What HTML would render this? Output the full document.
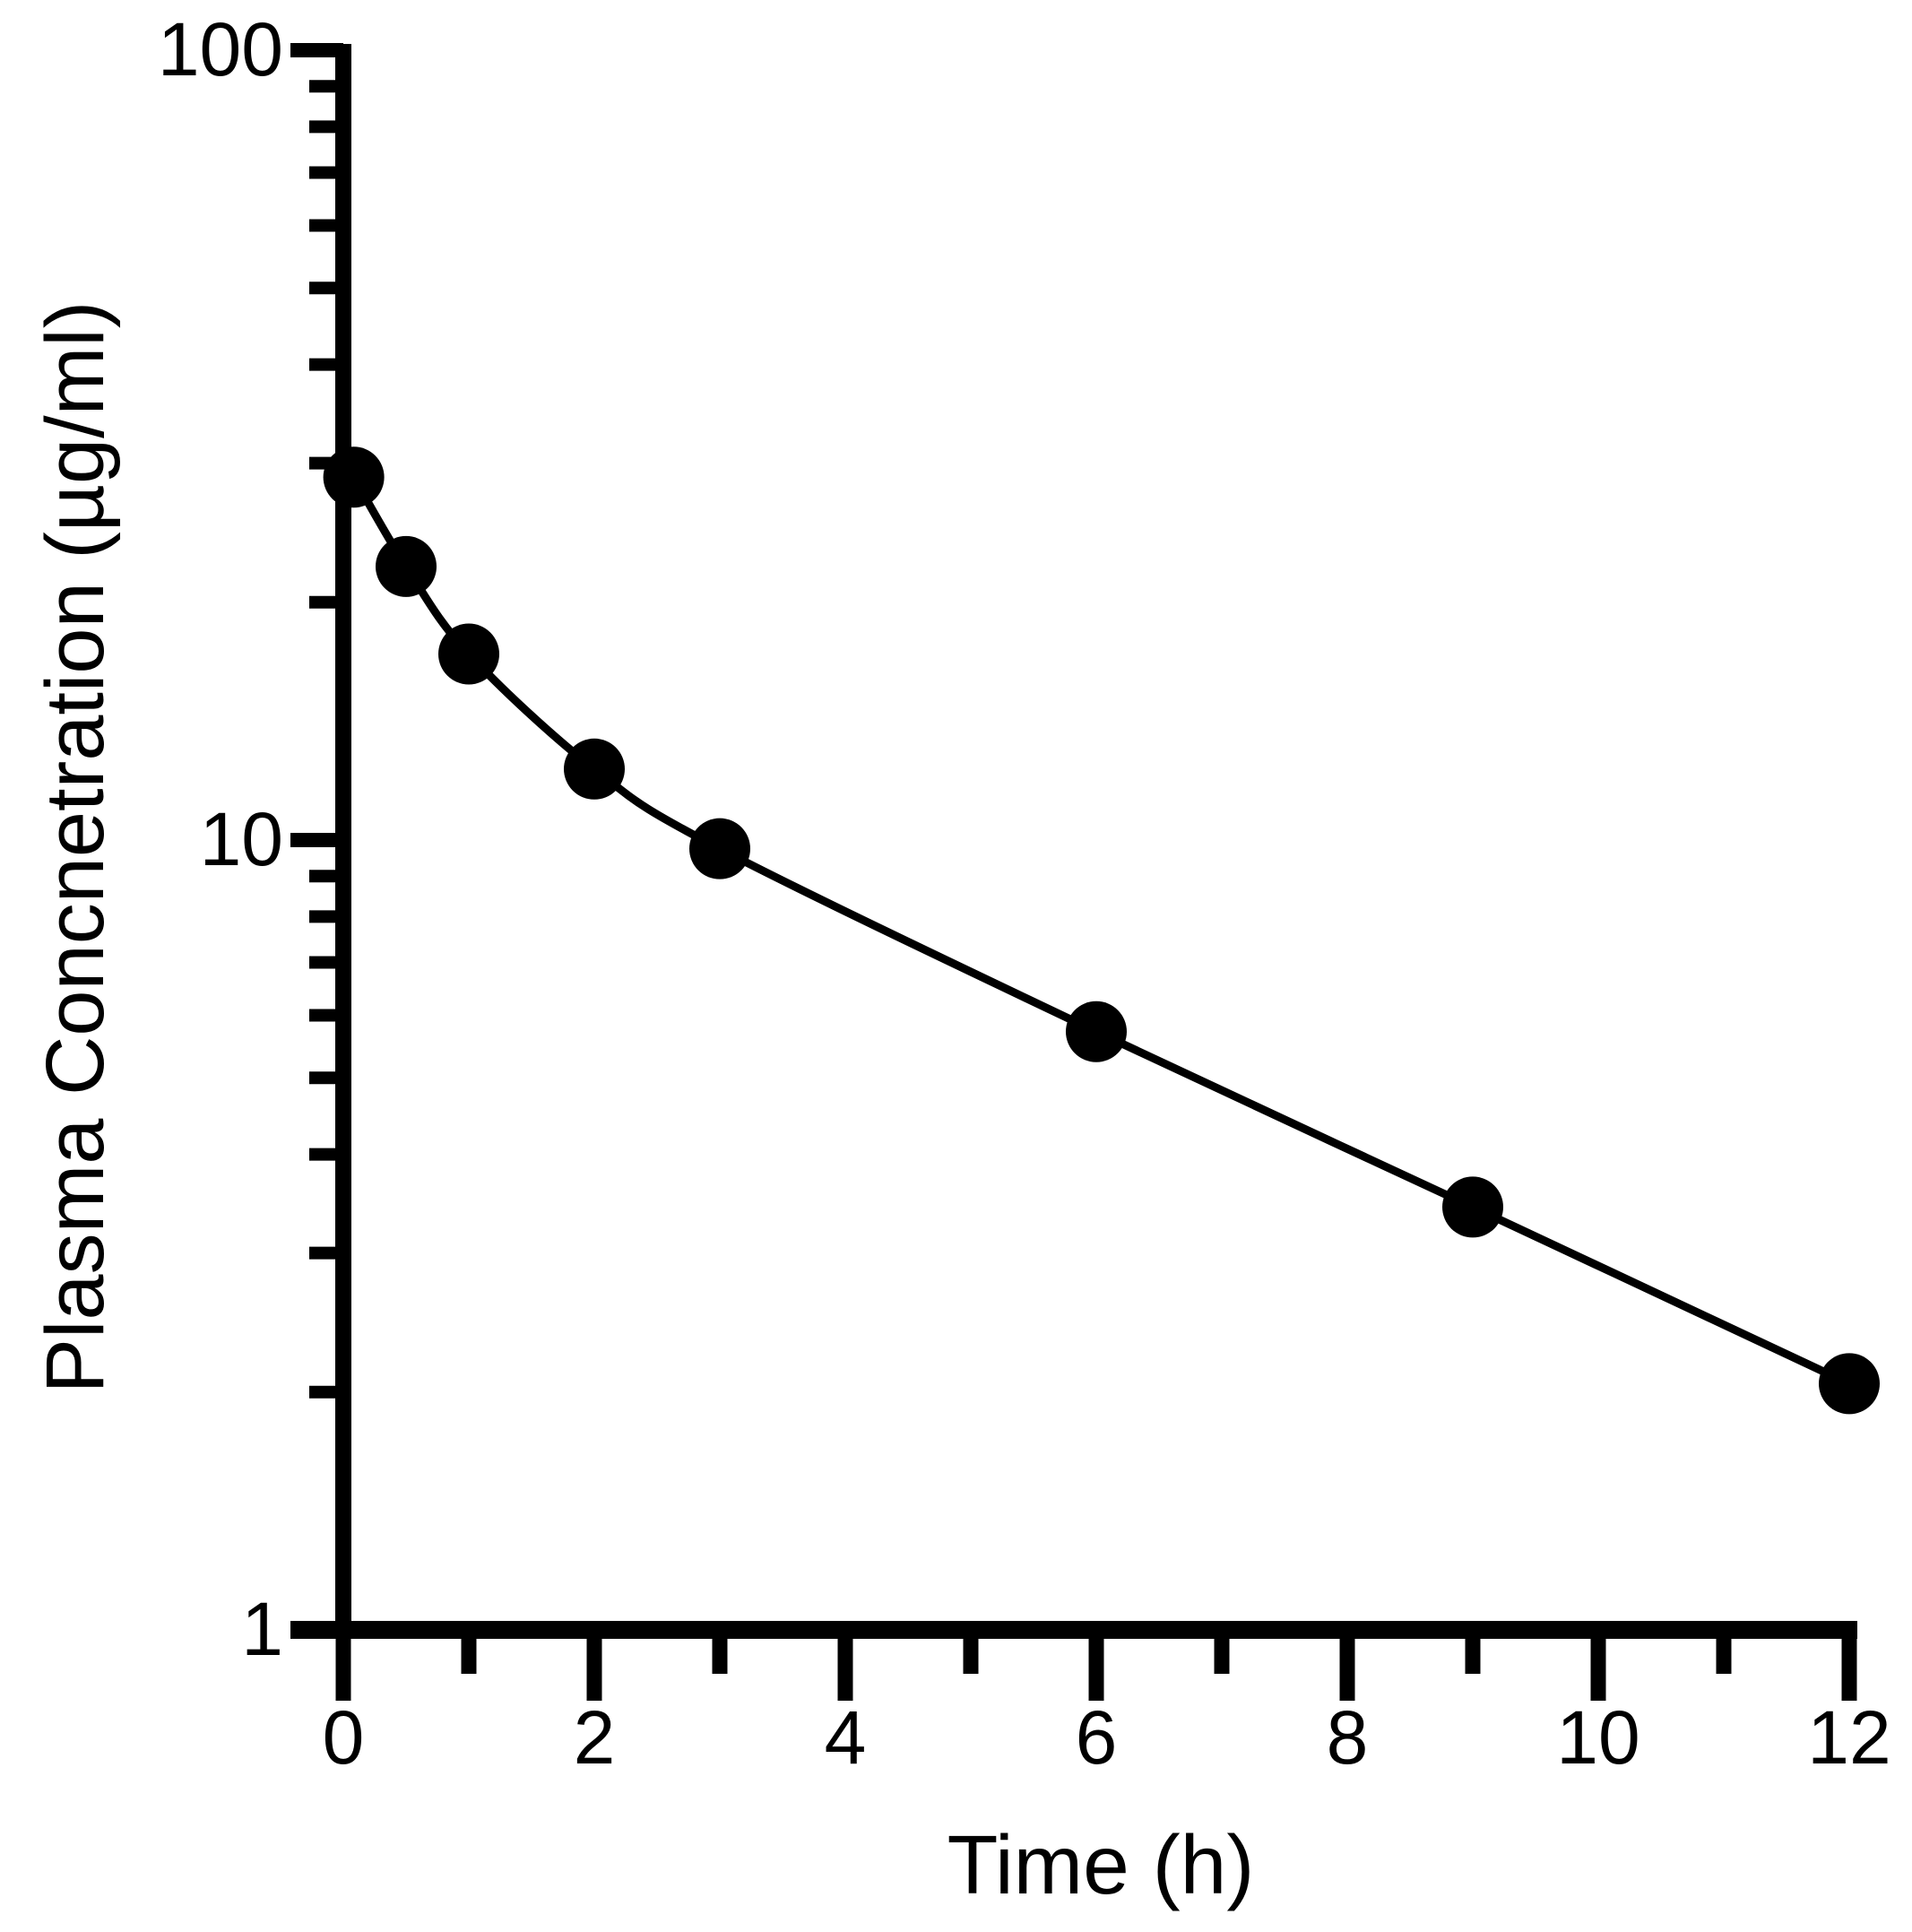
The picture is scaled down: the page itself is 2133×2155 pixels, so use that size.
<!DOCTYPE html>
<html><head><meta charset="utf-8"><style>
html,body{margin:0;padding:0;background:#fff;}
svg{display:block;font-family:"Liberation Sans",Arial,sans-serif;}
</style></head><body>
<svg id="chart" width="2133" height="2155" viewBox="0 0 2133 2155" xmlns="http://www.w3.org/2000/svg">
<g id="axes"></g>
<g id="series"></g>
<text x="1228" y="2112" font-size="93" text-anchor="middle">Time (h)</text>
<text transform="translate(115,945) rotate(-90)" font-size="92" text-anchor="middle">Plasma Concnetration (µg/ml)</text>
</svg>
<script>
const times = [0.083, 0.5, 1, 2, 3, 6, 9, 12];
const concs = [28.8, 22.2, 17.2, 12.3, 9.75, 5.72, 3.43, 2.05];
const xTicks = [0, 2, 4, 6, 8, 10, 12];
const xMinorTicks = [1, 3, 5, 7, 9, 11];
const yTickLabels = ["1", "10", "100"];
const yTickValues = [1, 10, 100];

const NS = "http://www.w3.org/2000/svg";
const X0 = 383, XU = 140;
const Y1 = 1818, DEC = 881;
function sx(t){ return X0 + t * XU; }
function sy(v){ return Y1 - Math.log10(v) * DEC; }
function mk(tag, attrs, parent){
  const e = document.createElementNS(NS, tag);
  for (const k in attrs) e.setAttribute(k, attrs[k]);
  parent.appendChild(e); return e;
}
const axes = document.getElementById('axes');
const series = document.getElementById('series');

let yl = mk('line', {x1: X0, y1: 49, x2: X0, y2: Y1 + 10, stroke: '#000', 'stroke-width': 18}, axes);


let xl = mk('line', {x1: 324, y1: Y1, x2: sx(12) + 9, y2: Y1, stroke: '#000', 'stroke-width': 20}, axes);



for (let d = 0; d < 2; d++) {
  for (let m = 2; m <= 9; m++) {
    const v = m * Math.pow(10, d);
    const t = mk('line', {x1: 345, y1: sy(v), x2: X0, y2: sy(v), stroke: '#000', 'stroke-width': 14}, axes);
    
    
  }
}
yTickValues.forEach((v, i) => {
  const t = mk('line', {x1: 324, y1: sy(v), x2: X0, y2: sy(v), stroke: '#000', 'stroke-width': 16}, axes);
  
  
  const l = mk('text', {x: 316, y: sy(v) + 28, 'font-size': 84, 'text-anchor': 'end'}, axes);
  l.textContent = yTickLabels[i];
  
  
});

xMinorTicks.forEach(t0 => {
  const t = mk('line', {x1: sx(t0), y1: Y1, x2: sx(t0), y2: 1867, stroke: '#000', 'stroke-width': 17}, axes);
  
  
});
xTicks.forEach(t0 => {
  const t = mk('line', {x1: sx(t0), y1: Y1, x2: sx(t0), y2: 1897, stroke: '#000', 'stroke-width': 17}, axes);
  
  
  const l = mk('text', {x: sx(t0), y: 1967, 'font-size': 84, 'text-anchor': 'middle'}, axes);
  l.textContent = String(t0);
  
  
});

const pts = times.map((t, i) => [sx(t), sy(concs[i])]);
let d = 'M' + pts[0][0] + ',' + pts[0][1];
for (let i = 0; i < pts.length - 1; i++) {
  const p0 = pts[i - 1] || pts[i], p1 = pts[i], p2 = pts[i + 1], p3 = pts[i + 2] || p2;
  const c1 = [p1[0] + (p2[0] - p0[0]) / 6, p1[1] + (p2[1] - p0[1]) / 6];
  const c2 = [p2[0] - (p3[0] - p1[0]) / 6, p2[1] - (p3[1] - p1[1]) / 6];
  d += ' C' + c1 + ' ' + c2 + ' ' + p2;
}
const path = mk('path', {d: d, fill: 'none', stroke: '#000', 'stroke-width': 9}, series);


pts.forEach(p => {
  const c = mk('circle', {cx: p[0], cy: p[1], r: 34, fill: '#000'}, series);
  
  
});
</script>
</body></html>
